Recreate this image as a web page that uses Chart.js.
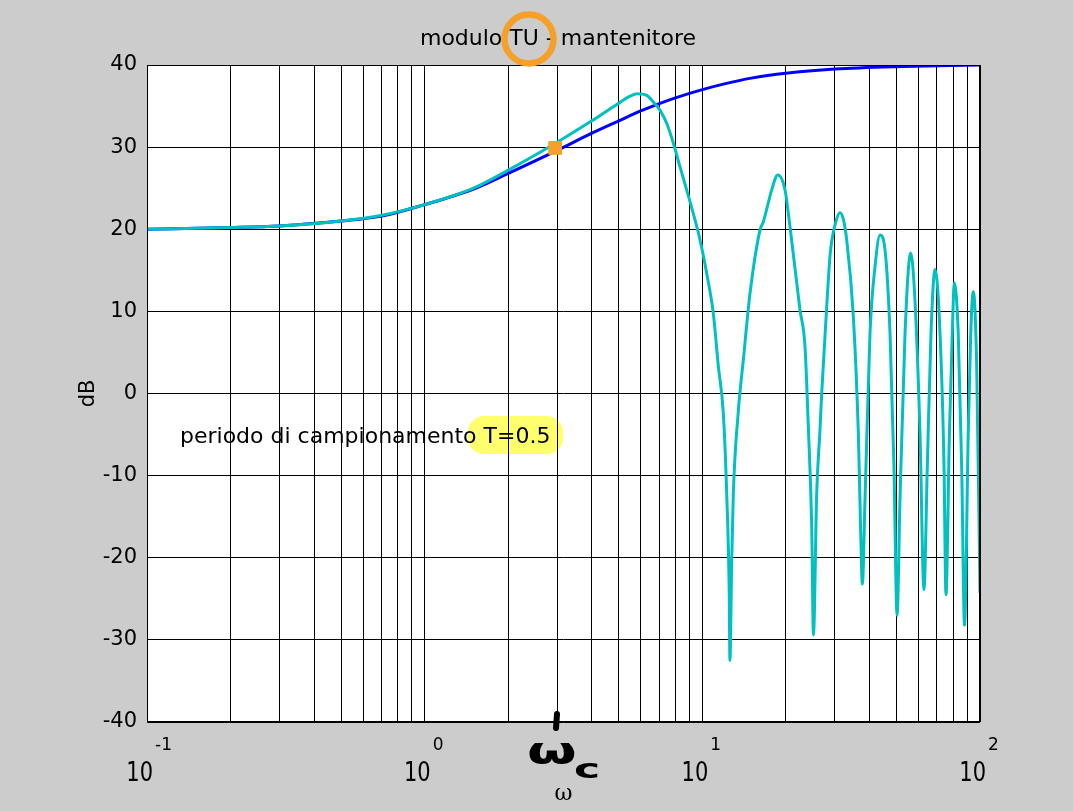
<!DOCTYPE html>
<html>
<head>
<meta charset="utf-8">
<script src="https://cdn.jsdelivr.net/npm/chart.js@4"></script>
<style>
  body { margin: 0; background: #cccccc; }
  canvas { display: block; }
</style>
</head>
<body>
<canvas id="bode" width="1073" height="811"></canvas>
<script>
// frequency ticks on the log axis (decades + minor grid)
const xTicks = [0.1, 0.2, 0.3, 0.4, 0.5, 0.6, 0.7, 0.8, 0.9,
                1, 2, 3, 4, 5, 6, 7, 8, 9,
                10, 20, 30, 40, 50, 60, 70, 80, 90, 100];
const xMajor = [0.1, 1, 10, 100];
const xExp = ['-1', '0', '1', '2'];

// continuous system (blue)
const blueW  = [0.1, 0.2, 0.3, 0.5, 0.7, 1, 1.5, 2, 3, 4, 5, 6, 7, 8, 10, 12, 15, 20, 30, 50, 70, 100];
const blueDb = [20.0, 20.2, 20.4, 21.0, 21.6, 23.0, 24.9, 26.8, 29.6, 31.7, 33.2, 34.4, 35.3, 36.0, 37.0, 37.7, 38.4, 39.0, 39.5, 39.8, 39.9, 40.0];

// system with hold (cyan)
const cyanW  = [0.1, 0.2, 0.3, 0.5, 0.7, 1, 1.5, 2, 3, 4, 4.92, 5.49, 5.82, 6.3, 6.66, 7.04, 7.44, 7.86, 8.31, 8.78, 9.28, 9.81,
                10.37, 10.95, 11.42, 11.9, 12.24, 12.5, 12.57, 12.76, 12.93, 13.48, 14.05, 14.85, 16.13, 16.58, 17.78, 18.68,
                19.85, 20.69, 22.47, 23.43, 24.08, 24.77, 25.13, 25.81, 26.53, 26.91, 28.04, 28.82, 29.23, 30.3, 31.3, 32.2,
                33.11, 34.98, 36.46, 37.19, 37.70, 38.53, 40.16, 41.86, 43.64, 45.49, 47.42, 48.99, 50.27,
                51.5, 53.7, 56.3, 58.3, 60.8, 62.83, 64.6, 66.6, 68.9, 71.8, 74.2, 75.4,
                77.6, 79.8, 80.8, 83.5, 85.9, 87.96, 90.7, 92.6, 94.6, 97.3, 100];
const cyanDb = [20.0, 20.2, 20.4, 21.0, 21.7, 23.0, 25.0, 27.2, 30.6, 33.2, 35.2, 36.2, 36.5, 36.3, 35.5, 34.5, 32.9, 30.5, 27.6, 24.8, 21.9, 18.7,
                14.6, 9.8, 3.3, -2.4, -12.2, -24.3, -32.5, -20.3, -12.2, -2.1, 4.1, 12.2, 19.9, 20.9, 24.8, 26.6,
                24.8, 20.3, 10.2, 5.7, -4.0, -16.2, -29.4, -12.2, -4.4, 0.0, 10.5, 16.7, 18.5, 21.0, 22.0, 21.2,
                18.7, 9.4, -4.8, -17.0, -23.2, -13.0, 7.3, 15.4, 19.3, 17.5, 7.3, -8.9, -27.0,
                -13.0, 7.3, 17.1, 11.4, -4.8, -23.9, -8.9, 7.3, 15.1, 7.3, -8.9, -24.5,
                -4.8, 9.4, 13.5, 7.3, -8.9, -28.2, -4.8, 7.3, 12.4, 3.3, -24.3];

// crossover point marked by hand
const markW = [2.95];
const markDb = [29.9];

const ORANGE = '#f5a02a';
const TXT = '"DejaVu Sans", sans-serif';

const toXY = (xs, ys) => xs.map((x, i) => ({ x: x, y: ys[i] }));

// paint figure background, white axes and all the overlay texts
const decor = {
    id: 'decor',
    beforeDraw(chart) {
        const { ctx, chartArea: a } = chart;
        ctx.save();
        ctx.fillStyle = '#cccccc';
        ctx.fillRect(0, 0, chart.width, chart.height);
        ctx.fillStyle = '#ffffff';
        ctx.fillRect(a.left, a.top, a.right - a.left, a.bottom - a.top);
        ctx.restore();
    },
    afterDatasetsDraw(chart) {
        const { ctx, chartArea: a } = chart;
        const xs = chart.scales.x;
        ctx.save();

        // axes box
        ctx.strokeStyle = '#000';
        ctx.lineWidth = 1;
        ctx.strokeRect(a.left + 0.5, a.top + 0.5, a.right - a.left - 1, a.bottom - a.top - 1);

        // yellow highlighter behind T=0.5
        ctx.globalCompositeOperation = 'multiply';
        ctx.fillStyle = 'rgba(255, 255, 60, 0.75)';
        ctx.beginPath();
        ctx.roundRect(468, 416, 95, 38, 16);
        ctx.fill();
        ctx.globalCompositeOperation = 'source-over';

        ctx.fillStyle = '#000';
        ctx.font = '22px ' + TXT;
        ctx.textAlign = 'left';
        ctx.textBaseline = 'alphabetic';
        ctx.fillText('periodo di campionamento T=0.5', 180, 443);

        // title
        ctx.textAlign = 'center';
        ctx.fillText('modulo TU - mantenitore', 558, 45);

        // orange circle around "TU"
        ctx.strokeStyle = ORANGE;
        ctx.lineWidth = 6.5;
        ctx.beginPath();
        ctx.arc(529, 39, 24.5, 0, Math.PI * 2);
        ctx.stroke();

        // x tick labels 10^n
        xMajor.forEach((v, i) => {
            const px = xs.getPixelForValue(v);
            ctx.save();
            ctx.translate(px + 6, 781);
            ctx.scale(1, 1.3);
            ctx.textAlign = 'right';
            ctx.font = '21px ' + TXT;
            ctx.fillText('10', 0, 0);
            ctx.restore();
            ctx.textAlign = 'left';
            ctx.font = '17px ' + TXT;
            ctx.fillText(xExp[i], px + 8, 750);
        });

        // handwritten omega_c
        ctx.strokeStyle = '#000';
        ctx.lineWidth = 6;
        ctx.lineCap = 'round';
        ctx.beginPath();
        ctx.moveTo(557, 714);
        ctx.lineTo(556, 728);
        ctx.stroke();
        ctx.save();
        ctx.translate(527, 763);
        ctx.scale(1.3, 0.85);
        ctx.textAlign = 'left';
        ctx.font = 'bold 44px ' + TXT;
        ctx.fillText('ω', 0, 0);
        ctx.restore();
        ctx.save();
        ctx.translate(574, 778);
        ctx.scale(1.3, 0.8);
        ctx.font = 'bold 34px ' + TXT;
        ctx.fillText('c', 0, 0);
        ctx.restore();

        ctx.restore();
    }
};

new Chart(document.getElementById('bode'), {
    type: 'line',
    data: {
        datasets: [
            {
                data: toXY(markW, markDb),
                showLine: false,
                pointStyle: 'rect',
                pointRadius: 9,
                backgroundColor: ORANGE,
                borderColor: ORANGE
            },
            {
                data: toXY(cyanW, cyanDb),
                borderColor: '#00c0c0',
                borderWidth: 3,
                pointRadius: 0,
                cubicInterpolationMode: 'monotone'
            },
            {
                data: toXY(blueW, blueDb),
                borderColor: '#0000ff',
                borderWidth: 3,
                pointRadius: 0,
                cubicInterpolationMode: 'monotone'
            }
        ]
    },
    options: {
        responsive: false,
        animation: false,
        devicePixelRatio: 1,
        layout: { padding: { left: 72, top: 65, right: 93, bottom: 0 } },
        plugins: { legend: { display: false }, tooltip: { enabled: false } },
        scales: {
            x: {
                type: 'logarithmic',
                min: 0.1,
                max: 100,
                afterBuildTicks: (axis) => { axis.ticks = xTicks.map(v => ({ value: v })); },
                afterFit: (s) => { s.height = 89; },
                ticks: { display: false },
                grid: { color: '#000', lineWidth: 1, drawTicks: false },
                border: { display: false },
                title: {
                    display: true,
                    text: 'ω',
                    color: '#000',
                    font: { family: '"DejaVu Serif", serif', size: 22 },
                    padding: { top: 0, bottom: 4 }
                }
            },
            y: {
                min: -40,
                max: 40,
                afterFit: (s) => { s.width = 75; },
                ticks: {
                    stepSize: 10,
                    padding: 10,
                    color: '#000',
                    font: { family: TXT, size: 21 }
                },
                grid: { color: '#000', lineWidth: 1, drawTicks: false },
                border: { display: false },
                title: {
                    display: true,
                    text: 'dB',
                    color: '#000',
                    font: { family: TXT, size: 21 },
                    padding: { top: 4, bottom: 0 }
                }
            }
        }
    },
    plugins: [decor]
});
</script>
</body>
</html>
